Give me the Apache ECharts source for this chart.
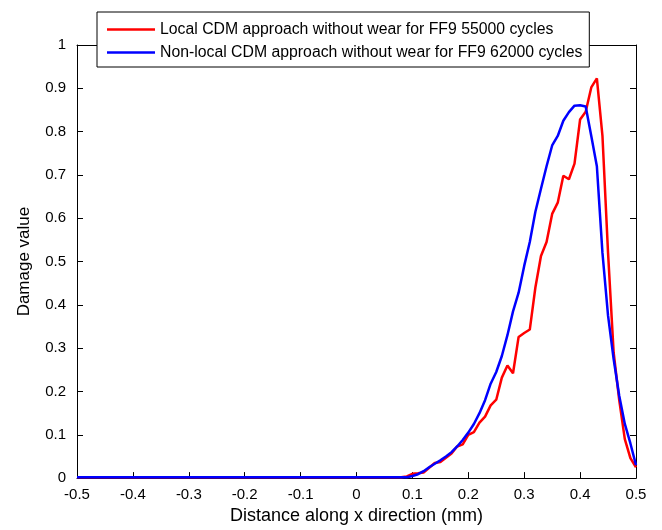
<!DOCTYPE html>
<html>
<head>
<meta charset="utf-8">
<script src="https://cdn.jsdelivr.net/npm/echarts@6/dist/echarts.min.js"></script>
<style>
html,body{margin:0;padding:0;background:#fff;}
#chart{width:662px;height:530px;}
</style>
</head>
<body>
<div id="chart"></div>
<script>
var xValues = [-0.5, 0, 0.08, 0.09, 0.10, 0.11, 0.12, 0.13, 0.14, 0.15, 0.16, 0.17, 0.18, 0.19,
  0.20, 0.21, 0.22, 0.23, 0.24, 0.25, 0.26, 0.27, 0.28, 0.29, 0.30, 0.31, 0.32, 0.33, 0.34,
  0.35, 0.36, 0.37, 0.38, 0.39, 0.40, 0.41, 0.42, 0.43, 0.44, 0.45, 0.46, 0.47, 0.48, 0.49, 0.50];
var localValues = [0.002, 0.002, 0.002, 0.004, 0.010, 0.011, 0.013, 0.024, 0.035, 0.037, 0.047, 0.057, 0.073, 0.078,
  0.100, 0.106, 0.128, 0.142, 0.168, 0.181, 0.232, 0.260, 0.242, 0.326, 0.335, 0.343, 0.440, 0.513, 0.545,
  0.610, 0.636, 0.698, 0.690, 0.726, 0.828, 0.846, 0.902, 0.923, 0.790, 0.520, 0.290, 0.180, 0.090, 0.046, 0.025];
var nonLocalValues = [0.002, 0.002, 0.002, 0.002, 0.005, 0.009, 0.016, 0.025, 0.033, 0.041, 0.050, 0.060, 0.073, 0.088,
  0.105, 0.125, 0.150, 0.180, 0.218, 0.245, 0.282, 0.330, 0.385, 0.428, 0.490, 0.545, 0.615, 0.668, 0.720,
  0.768, 0.790, 0.825, 0.845, 0.860, 0.861, 0.858, 0.790, 0.720, 0.520, 0.375, 0.275, 0.190, 0.125, 0.080, 0.030];
var seriesNames = ['Local CDM approach without wear for FF9 55000 cycles',
  'Non-local CDM approach without wear for FF9 62000 cycles'];
var xTitle = 'Distance along x direction (mm)';
var yTitle = 'Damage value';

function pairs(ys){ return xValues.map(function(x,i){ return [x, ys[i]]; }); }

var FONT = 'Liberation Sans, Arial, Helvetica, sans-serif';
var chart = echarts.init(document.getElementById('chart'), null, {renderer:'canvas'});
var axisCommon = {
  axisLine:{show:true, onZero:false, lineStyle:{color:'#000', width:1}},
  axisTick:{show:true, inside:true, length:6, lineStyle:{color:'#000', width:1}},
  splitLine:{show:false}
};
chart.setOption({
  animation:false,
  backgroundColor:'#fff',
  textStyle:{fontFamily:FONT},
  grid:{left:77, right:26, top:45, bottom:50, containLabel:false},
  legend:{
    orient:'vertical', left:97, top:12,
    backgroundColor:'#fff', borderColor:'#000', borderWidth:1,
    padding:[9,7,6,10], itemGap:6,
    icon:'rect', itemWidth:48, itemHeight:2.5,
    textStyle:{fontFamily:FONT, fontSize:15.8, color:'#000', lineHeight:17},
    data:seriesNames, z:10
  },
  xAxis:[
    Object.assign({type:'value', min:-0.5, max:0.5, interval:0.1, position:'bottom',
      name:xTitle, nameLocation:'middle', nameGap:20,
      nameTextStyle:{fontFamily:FONT, fontSize:18, color:'#000'},
      axisLabel:{fontFamily:FONT, fontSize:15, color:'#000', margin:9}}, axisCommon),
    Object.assign({type:'value', min:-0.5, max:0.5, interval:0.1, position:'top',
      axisLabel:{show:false}}, axisCommon)
  ],
  yAxis:[
    Object.assign({type:'value', min:0, max:1, interval:0.1, position:'left',
      name:yTitle, nameLocation:'middle', nameGap:44,
      nameTextStyle:{fontFamily:FONT, fontSize:17, color:'#000'},
      axisLabel:{fontFamily:FONT, fontSize:15, color:'#000', margin:11}}, axisCommon),
    Object.assign({type:'value', min:0, max:1, interval:0.1, position:'right',
      axisLabel:{show:false}}, axisCommon)
  ],
  series:[
    {name:seriesNames[0], type:'line', data:pairs(localValues), showSymbol:false, symbol:'none',
      lineStyle:{color:'#ff0000', width:2.5}, itemStyle:{color:'#ff0000'}, clip:false},
    {name:seriesNames[1], type:'line', data:pairs(nonLocalValues), showSymbol:false, symbol:'none',
      lineStyle:{color:'#0000ff', width:2.5}, itemStyle:{color:'#0000ff'}, clip:false}
  ]
});
</script>
</body>
</html>
